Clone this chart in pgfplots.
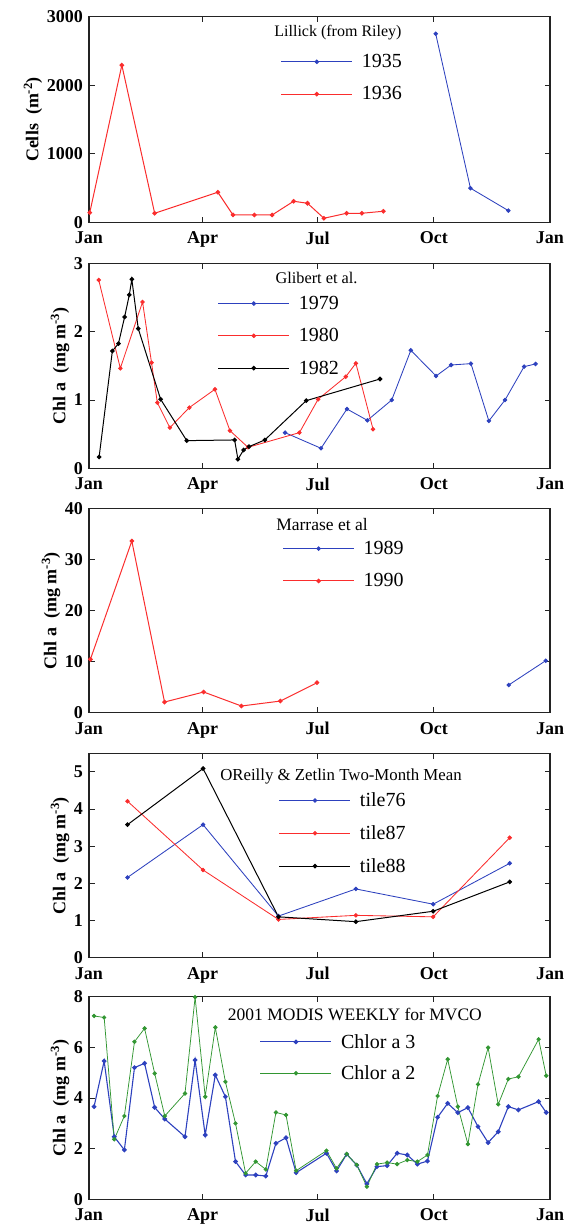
\documentclass[border=0pt]{standalone}
\usepackage{fontspec}
\setmainfont{Liberation Serif}
\usepackage{pgfplots}
\pgfplotsset{compat=1.18}

\definecolor{mblue}{RGB}{45,65,190}
\definecolor{mred}{RGB}{250,45,45}
\definecolor{mgreen}{RGB}{50,150,50}
\definecolor{frame}{RGB}{35,35,35}

\tikzset{ttl/.style={font=\fontsize{#1}{#1}\selectfont}}
\pgfplotsset{
 panel/.style={
  scale only axis, width=461pt,
  xmin=0, xmax=365, xtick={0,90,181,273,365}, xticklabels={Jan,Apr,Jul,Oct,Jan},
  ymin=0,
  tick align=inside, tick pos=both, major tick length=5.5pt,
  axis line style={line width=1.1pt, frame},
  every tick/.style={frame, line width=0.9pt},
  tick label style={font=\fontsize{18}{18}\selectfont\bfseries},
  /pgf/number format/assume math mode=true,
  /pgf/number format/1000 sep={},
  xticklabel style={yshift=-8.5pt, inner sep=1pt},
  yticklabel style={inner sep=1pt, xshift=-5pt},
  ylabel style={font=\fontsize{18}{18}\selectfont\bfseries},
  legend style={draw=none, fill=none, inner sep=0pt, anchor=north west,
    font=\fontsize{20}{20}\selectfont, row sep=17.5pt, nodes={inner sep=0pt},
    /tikz/every odd column/.append style={column sep=9pt}},
  legend cell align=left,
  legend image code/.code={\draw[mark repeat=2,mark phase=2,##1] plot coordinates {(0pt,0pt) (35.5pt,0pt) (71pt,0pt)};},
  every axis plot/.append style={line width=0.85pt, mark=*, mark size=1.8pt},
 },
}

\begin{document}
\begin{tikzpicture}
\path[use as bounding box] (0,0) rectangle (564pt,-1229pt);

% Panel 1
\begin{axis}[panel, at={(89pt,-222.3pt)}, anchor=south west, height=205.6pt,
  ymax=3000, ytick={0,1000,2000,3000},
  ylabel={Cells\ \ (m\textsuperscript{-2})},
  legend style={at={(0.4156,0.8174)}}]
\addplot[mblue] coordinates {(274.5,2751) (302,498) (332,171)};
\addlegendentry{1935}
\addplot[mred, line width=1pt] coordinates {(0.6,140) (26,2293) (52,132) (102,439) (114,107) (131,107) (145,107) (162,307) (173,278) (186,59) (204,132) (216,132) (233,161)};
\addlegendentry{1936}
\node[ttl=16] at (rel axis cs:0.540,0.921) {Lillick (from Riley)};
\end{axis}

% Panel 2
\begin{axis}[panel, at={(89pt,-468.3pt)}, anchor=south west, height=205pt,
  ymax=3, ytick={0,1,2,3},
  ylabel={Chl a\ \ (mg m\textsuperscript{-3})},
  legend style={at={(0.279,0.8407)}}]
\addplot[mblue] coordinates {(155.2,0.522) (183.7,0.293) (204.2,0.868) (220.4,0.702) (239.7,1.0) (254.8,1.727) (274.8,1.351) (286.7,1.512) (302.4,1.532) (316.6,0.693) (329.4,1.0) (344.5,1.488) (353.6,1.527)};
\addlegendentry{1979}
\addplot[mred] coordinates {(7.7,2.756) (24.8,1.463) (42.4,2.434) (49.5,1.546) (54.1,0.961) (64,0.595) (79.4,0.888) (99.7,1.156) (111.6,0.551) (125.9,0.307) (166.6,0.522) (181.4,1.010) (203.3,1.341) (211.3,1.537) (224.9,0.571)};
\addlegendentry{1980}
\addplot[black, line width=1pt] coordinates {(8,0.166) (18.5,1.717) (23.3,1.824) (28.2,2.215) (31.9,2.537) (33.9,2.766) (39,2.044) (56.7,1.010) (77.4,0.405) (115.3,0.415) (117.9,0.132) (122.4,0.268) (126.7,0.317) (139.2,0.415) (172,0.990) (230.4,1.307)};
\addlegendentry{1982}
\node[ttl=16.3] at (rel axis cs:0.4935,0.927) {Glibert et al.};
\end{axis}

% Panel 3
\begin{axis}[panel, at={(89pt,-712.7pt)}, anchor=south west, height=204.4pt,
  ymax=40, ytick={0,10,20,30,40},
  ylabel={Chl a\ \ (mg m\textsuperscript{-3})},
  legend style={at={(0.4195,0.840)}}]
\addplot[mblue] coordinates {(332.3,5.42) (361.6,10.18)};
\addlegendentry{1989}
\addplot[mred, line width=1pt] coordinates {(1.1,10.44) (33.9,33.6) (59.8,2.09) (90.8,4.05) (120.7,1.31) (151.5,2.28) (180.5,5.87)};
\addlegendentry{1990}
\node[ttl=17.5] at (rel axis cs:0.5054,0.922) {Marrase et al};
\end{axis}

% Panel 4
\begin{axis}[panel, at={(89pt,-957.7pt)}, anchor=south west, height=204.4pt,
  ymax=5.5, ytick={0,1,2,3,4,5},
  ylabel={Chl a\ \ (mg m\textsuperscript{-3})},
  legend style={at={(0.4117,0.808)}}]
\addplot[mblue] coordinates {(30.5,2.16) (90.3,3.58) (150,1.12) (211.3,1.85) (272.5,1.44) (333.1,2.54)};
\addlegendentry{tile76}
\addplot[mred] coordinates {(30.5,4.21) (90.3,2.36) (150,1.03) (211.3,1.14) (272.5,1.10) (333.1,3.23)};
\addlegendentry{tile87}
\addplot[black, line width=1pt] coordinates {(30.5,3.58) (90.3,5.09) (150,1.10) (211.3,0.97) (272.5,1.25) (333.1,2.04)};
\addlegendentry{tile88}
\node[ttl=16.8] at (rel axis cs:0.5466,0.886) {OReilly \& Zetlin Two-Month Mean};
\end{axis}

% Panel 5
\begin{axis}[panel, at={(89pt,-1199.3pt)}, anchor=south west, height=202.6pt,
  ymax=8, ytick={0,2,4,6,8},
  ylabel={Chl a\ \ (mg m\textsuperscript{-3})},
  legend style={at={(0.3703,0.816)}, row sep=16pt}]
\addplot[mblue, line width=1.1pt] coordinates {(4,3.66) (12,5.46) (20,2.47) (28,1.95) (36,5.20) (44,5.37) (52,3.63) (60,3.17) (76,2.47) (84,5.50) (92,2.54) (100,4.91) (108,4.05) (116,1.49) (124,0.96) (132,0.96) (140,0.92) (148,2.21) (156,2.43) (164,1.05) (188,1.82) (196,1.12) (204,1.78) (212,1.35) (220,0.61) (228,1.29) (236,1.33) (244,1.82) (252,1.75) (260,1.39) (268,1.51) (276,3.24) (284,3.79) (292,3.42) (300,3.62) (308,2.87) (316,2.24) (324,2.67) (332,3.66) (340,3.53) (356,3.86) (362,3.43)};
\addlegendentry{Chlor a 3}
\addplot[mgreen, line width=0.75pt] coordinates {(4,7.24) (12,7.18) (20,2.37) (28,3.29) (36,6.22) (44,6.75) (52,4.97) (60,3.29) (76,4.18) (84,7.98) (92,4.05) (100,6.79) (108,4.64) (116,3.0) (124,1.03) (132,1.49) (140,1.18) (148,3.43) (156,3.33) (164,1.13) (188,1.92) (196,1.22) (204,1.79) (212,1.36) (220,0.50) (228,1.39) (236,1.45) (244,1.39) (252,1.55) (260,1.49) (268,1.75) (276,4.08) (284,5.53) (292,3.66) (300,2.18) (308,4.54) (316,5.99) (324,3.75) (332,4.75) (340,4.84) (356,6.32) (362,4.88)};
\addlegendentry{Chlor a 2}
\node[ttl=17.5] at (rel axis cs:0.5768,0.910) {2001 MODIS WEEKLY for MVCO};
\end{axis}
\end{tikzpicture}
\end{document}
